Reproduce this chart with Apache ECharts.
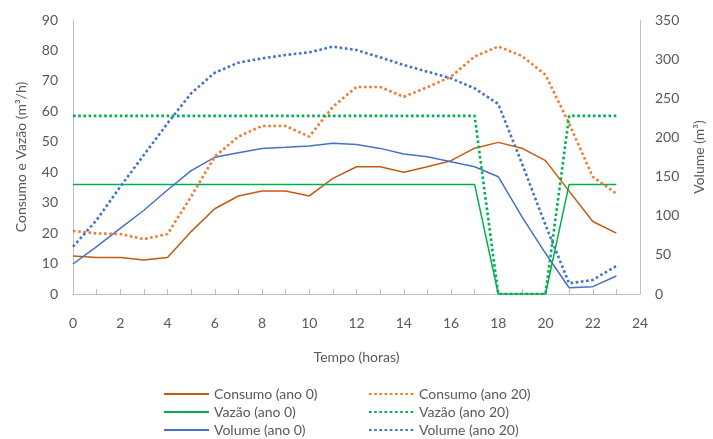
<!DOCTYPE html>
<html>
<head>
<meta charset="utf-8">
<title>Consumo, Vazão e Volume</title>
<script src="https://cdn.jsdelivr.net/npm/echarts@6/dist/echarts.min.js"></script>
<style>
  html, body { margin: 0; padding: 0; background: #fff; }
  #chart { width: 713px; height: 439px; }
</style>
</head>
<body>
<div id="chart"></div>
<script>
var horas = [0, 1, 2, 3, 4, 5, 6, 7, 8, 9, 10, 11, 12, 13, 14, 15, 16, 17, 18, 19, 20, 21, 22, 23];

var consumo0  = [12.5, 12, 12, 11.2, 12, 20.5, 28, 32.2, 33.8, 33.8, 32.2, 38, 41.8, 41.8, 40, 41.8, 43.8, 47.9, 49.8, 47.9, 43.8, 33.8, 23.8, 20];
var consumo20 = [20.7, 19.9, 19.7, 18, 19.7, 32, 45.1, 51.7, 55.2, 55.2, 51.7, 61.5, 68, 68, 64.8, 67.9, 71.4, 78, 81.3, 78.2, 72, 56, 38.5, 33];
var vazao0    = [36, 36, 36, 36, 36, 36, 36, 36, 36, 36, 36, 36, 36, 36, 36, 36, 36, 36, 0, 0, 0, 36, 36, 36];
var vazao20   = [58.5, 58.5, 58.5, 58.5, 58.5, 58.5, 58.5, 58.5, 58.5, 58.5, 58.5, 58.5, 58.5, 58.5, 58.5, 58.5, 58.5, 58.5, 0, 0, 0, 58.5, 58.5, 58.5];
var volume0   = [38.3, 60.4, 83.9, 107, 132.8, 157.5, 174.6, 180.5, 186, 187.4, 189, 192.5, 191, 186, 178.8, 175.4, 169, 162.6, 149.8, 98.8, 52, 8, 9.4, 23];
var volume20  = [60.4, 94.5, 137, 177.6, 218, 256.3, 282.7, 295.5, 301, 305.3, 308.7, 316, 311.7, 302.3, 292.5, 284, 275.5, 262.7, 242.7, 167, 88, 13.6, 17.9, 35.8];

var nomes = ['Consumo (ano 0)', 'Vazão (ano 0)', 'Volume (ano 0)',
             'Consumo (ano 20)', 'Vazão (ano 20)', 'Volume (ano 20)'];

var cinza = '#595959',
    linhaEixo = '#BFBFBF',
    fonte = 'Lato, "Open Sans", sans-serif';

function pares(ys) {
  var d = [];
  for(var j = 0; j < horas.length; j++) {
    d.push([horas[j], ys[j]]);
  }
  return d;
}

function serie(nome, ys, cor, pontilhado, eixo) {
  return {
    name: nome,
    type: 'line',
    yAxisIndex: eixo,
    symbol: 'none',
    smooth: false,
    lineStyle: {
      color: cor,
      width: pontilhado ? 2.6 : 1.5,
      type: pontilhado ? [2.6, 2.6] : 'solid'
    },
    itemStyle: {color: cor},
    data: pares(ys)
  };
}

// one legend per item, laid out in two columns of three rows
function legenda(j) {
  var col = j < 3 ? 0 : 1,
      row = j % 3;
  return {
    data: [nomes[j]],
    left: col === 0 ? 163 : 368,
    top: 387 + row * 18,
    itemWidth: 45,
    itemHeight: 10,
    padding: 0,
    itemStyle: {opacity: 0},
    textStyle: {color: cinza, fontSize: 14, fontFamily: fonte}
  };
}

var chart = echarts.init(document.getElementById('chart'));

var legendas = [];
for(var j = 0; j < nomes.length; j++) legendas.push(legenda(j));

var option = {
  animation: false,
  textStyle: {fontFamily: fonte},
  grid: {left: 73, right: 73, top: 20, bottom: 145, outerBoundsMode: 'none'},
  legend: legendas,
  xAxis: {
    type: 'value',
    min: 0,
    max: 24,
    interval: 1,
    name: 'Tempo (horas)',
    nameLocation: 'middle',
    nameGap: 56,
    nameTextStyle: {color: cinza, fontSize: 14},
    axisLine: {lineStyle: {color: linhaEixo}},
    axisTick: {show: true, inside: true, length: 5, lineStyle: {color: linhaEixo}},
    axisLabel: {
      color: cinza, fontSize: 14, margin: 22,
      formatter: function(v) { return v % 2 === 0 ? String(v) : ''; }
    },
    splitLine: {show: false}
  },
  yAxis: [
    {
      type: 'value',
      min: 0,
      max: 90,
      interval: 10,
      name: 'Consumo e Vazão (m³/h)',
      nameLocation: 'middle',
      nameRotate: 90,
      nameGap: 45,
      nameTextStyle: {color: cinza, fontSize: 14},
      axisLine: {show: true, lineStyle: {color: linhaEixo}},
      axisTick: {show: false},
      axisLabel: {color: cinza, fontSize: 14, margin: 15},
      splitLine: {show: false}
    },
    {
      type: 'value',
      min: 0,
      max: 350,
      interval: 50,
      position: 'right',
      name: 'Volume (m³)',
      nameLocation: 'middle',
      nameRotate: 90,
      nameGap: 52,
      nameTextStyle: {color: cinza, fontSize: 14},
      axisLine: {show: true, lineStyle: {color: linhaEixo}},
      axisTick: {show: false},
      axisLabel: {color: cinza, fontSize: 14, margin: 15},
      splitLine: {show: false}
    }
  ],
  series: [
    serie(nomes[0], consumo0, '#C55A11', false, 0),
    serie(nomes[1], vazao0, '#00B050', false, 0),
    serie(nomes[2], volume0, '#4472C4', false, 1),
    serie(nomes[3], consumo20, '#ED7D31', true, 0),
    serie(nomes[4], vazao20, '#00B050', true, 0),
    serie(nomes[5], volume20, '#4472C4', true, 1)
  ]
};

chart.setOption(option, true);

window.onresize = function() {
  chart.resize();
};
</script>
</body>
</html>
